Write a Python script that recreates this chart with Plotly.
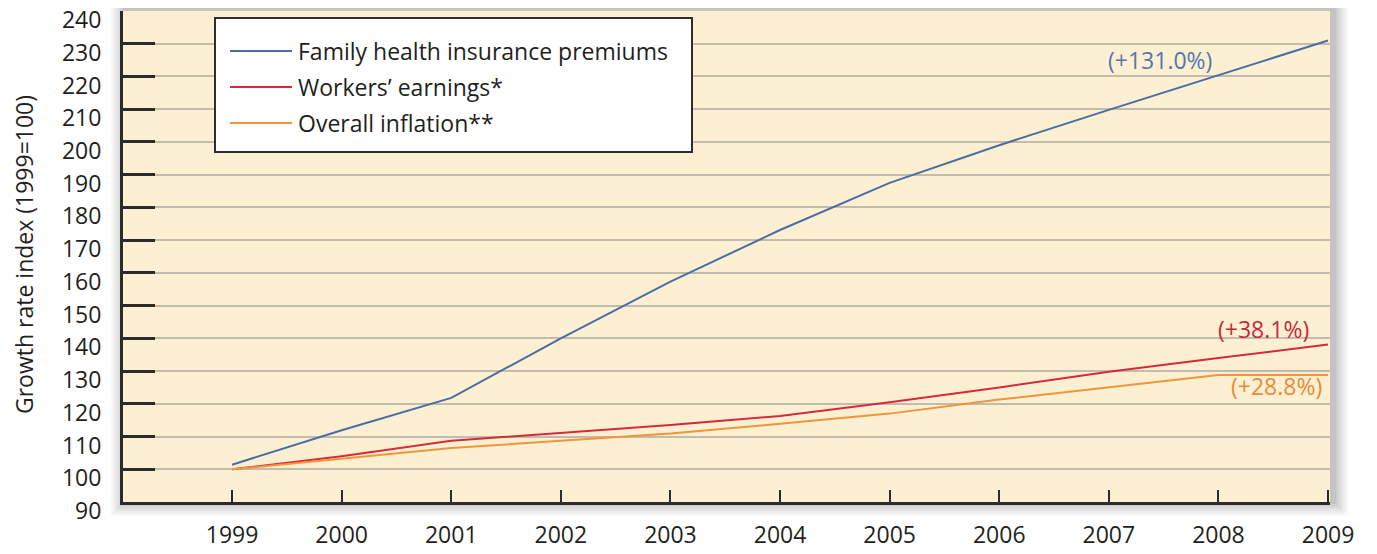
import plotly.graph_objects as go

years = [1999, 2000, 2001, 2002, 2003, 2004, 2005, 2006, 2007, 2008, 2009]
premiums = [101.4, 111.9, 121.8, 140.0, 157.3, 173.1, 187.5, 199.0, 209.8, 220.3, 231.0]
earnings = [100.0, 104.0, 108.7, 111.2, 113.5, 116.3, 120.5, 125.0, 129.8, 134.0, 138.1]
inflation = [100.0, 103.3, 106.5, 108.7, 110.9, 113.9, 117.0, 121.3, 125.1, 128.8, 128.8]

series_names = ["Family health insurance premiums", "Workers\u2019 earnings*", "Overall inflation**"]
series_colors = ["#4a6da3", "#d42a3c", "#f0953c"]
label_colors = ["#5577ab", "#c9283c", "#ec8a38"]
y_ticks = list(range(90, 250, 10))

FONT = "Open Sans"
TXT = "#231f20"
FS = 23

fig = go.Figure()
for vals, name, col in zip([premiums, earnings, inflation], series_names, series_colors):
    fig.add_trace(go.Scatter(x=years, y=vals, mode="lines", name=name,
                             line=dict(color=col, width=2), showlegend=False))

# page has an 8px body margin: plot area target in page pixels x 123..1330, y 11..502
OFF = 8
W, H = 1207.0, 491.0

def px(x):
    return (x - 123) / W

def py(y):
    return (502 - y) / H

shapes = []
# drop shadow around plot area
for i, a in enumerate([0.04, 0.045, 0.05, 0.055, 0.065, 0.08]):
    e = 14 - i * 2.4
    shapes.append(dict(type="rect", xref="paper", yref="paper", layer="below",
                       x0=(-e + 2) / W, x1=1 + (e + 4) / W, y0=-(e) / H, y1=1 + (e + 1) / H,
                       line=dict(width=0), fillcolor=f"rgba(60,60,60,{a})"))
shapes.append(dict(type="rect", xref="paper", yref="paper", layer="below",
                   x0=0, x1=1, y0=0, y1=1, line=dict(width=0), fillcolor="#fdf0d2"))

# legend box (manual)
shapes.append(dict(type="rect", xref="paper", yref="paper", layer="above",
                   x0=px(215), x1=px(692), y0=py(152), y1=py(18),
                   line=dict(color="#2e2e2e", width=2), fillcolor="white"))
annotations = []
rows = [51, 87, 123]
for name, col, ry in zip(series_names, series_colors, rows):
    shapes.append(dict(type="line", xref="paper", yref="paper", layer="above",
                       x0=px(230), x1=px(292), y0=py(ry), y1=py(ry),
                       line=dict(color=col, width=2)))
    annotations.append(dict(xref="paper", yref="paper", x=px(296), y=py(ry),
                            text=name, showarrow=False, xanchor="left", yanchor="middle",
                            font=dict(family=FONT, size=FS, color=TXT)))

# end-value labels
end_vals = [premiums[-1], earnings[-1], inflation[-1]]
label_pos = [(2007.47, 225.1), (2008.41, 142.8), (2008.53, 125.4)]
for v, col, (lx, ly) in zip(end_vals, label_colors, label_pos):
    annotations.append(dict(xref="x", yref="y", x=lx, y=ly, text=f"(+{v - 100:.1f}%)",
                            showarrow=False, xanchor="center", yanchor="middle",
                            font=dict(family=FONT, size=FS, color=col)))

annotations.append(dict(xref="paper", yref="paper", x=px(24), y=py(255),
                        text="Growth rate index (1999=100)", textangle=-90, showarrow=False,
                        xanchor="center", yanchor="middle",
                        font=dict(family=FONT, size=FS, color=TXT)))

fig.update_layout(
    width=1377, height=554,
    margin=dict(l=123 - OFF, r=47 + OFF, t=11 - OFF, b=52 + OFF, autoexpand=False),
    paper_bgcolor="white", plot_bgcolor="rgba(0,0,0,0)",
    shapes=shapes, annotations=annotations,
    font=dict(family=FONT, size=FS, color=TXT),
)
fig.update_xaxes(range=[1998.005, 2009.018], tickmode="array", tickvals=years,
                 ticktext=[str(y) for y in years], ticks="inside", ticklen=12, tickwidth=2,
                 tickcolor="#2b2b2b", showgrid=False, zeroline=False, showline=True,
                 linecolor="#2b2b2b", linewidth=3, ticklabelstandoff=10,
                 ticklabeloverflow="allow", automargin=False,
                 tickfont=dict(family=FONT, size=FS, color=TXT))
fig.update_yaxes(range=[90, 240], tickmode="array", tickvals=y_ticks,
                 ticks="inside", ticklen=32, tickwidth=2.5, tickcolor="#2b2b2b",
                 showgrid=True, gridcolor="#c3bbae", gridwidth=2, zeroline=False,
                 showline=True, linecolor="#2b2b2b", linewidth=3,
                 ticklabelstandoff=14, ticklabelshift=9, ticklabeloverflow="allow",
                 automargin=False,
                 tickfont=dict(family=FONT, size=FS, color=TXT))

fig.write_html("out.html")
